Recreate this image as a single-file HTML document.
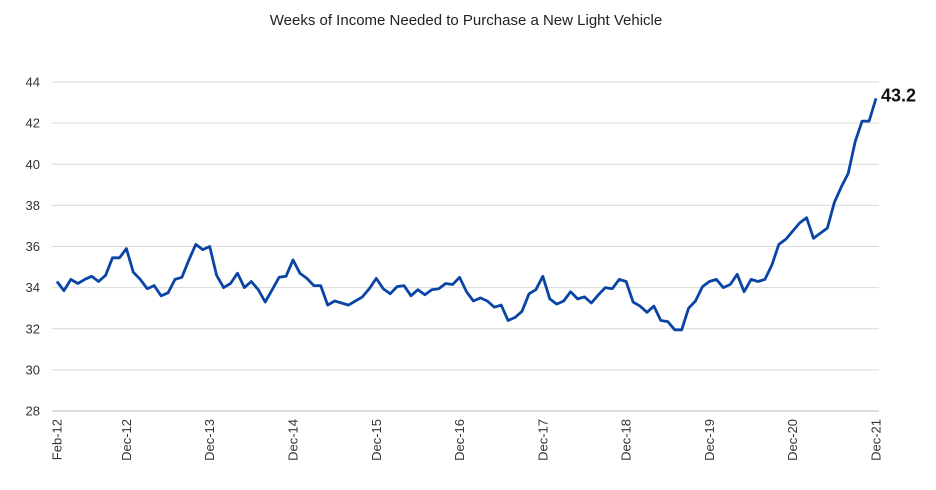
<!DOCTYPE html>
<html><head><meta charset="utf-8"><style>
html,body{margin:0;padding:0;background:#fff;}
svg{display:block;font-family:"Liberation Sans",Arial,sans-serif;}
</style></head><body>
<svg id="chart" width="936" height="490" viewBox="0 0 936 490" xmlns="http://www.w3.org/2000/svg">
<text x="466" y="25" text-anchor="middle" font-size="15" fill="#222">Weeks of Income Needed to Purchase a New Light Vehicle</text>
<g id="grid"></g><g id="yticks"></g><g id="xticks"></g><g id="series"></g>
</svg>
<script>
const values=[34.3,33.85,34.4,34.2,34.4,34.55,34.3,34.6,35.45,35.45,35.9,34.75,34.4,33.95,34.1,33.6,33.75,34.4,34.5,35.35,36.1,35.85,36.0,34.6,34.0,34.2,34.7,34.0,34.3,33.9,33.3,33.9,34.5,34.55,35.35,34.7,34.45,34.1,34.1,33.15,33.35,33.25,33.15,33.35,33.55,33.95,34.45,33.95,33.7,34.05,34.1,33.6,33.9,33.65,33.9,33.95,34.2,34.15,34.5,33.8,33.35,33.5,33.35,33.05,33.15,32.4,32.55,32.85,33.7,33.9,34.55,33.45,33.2,33.35,33.8,33.45,33.55,33.25,33.65,34.0,33.95,34.4,34.3,33.3,33.1,32.8,33.1,32.4,32.35,31.95,31.95,33.0,33.35,34.05,34.3,34.4,34.0,34.15,34.65,33.8,34.4,34.3,34.4,35.1,36.1,36.35,36.75,37.15,37.4,36.4,36.65,36.9,38.15,38.9,39.55,41.1,42.1,42.1,43.2];
const xLabels=["Feb-12","Dec-12","Dec-13","Dec-14","Dec-15","Dec-16","Dec-17","Dec-18","Dec-19","Dec-20","Dec-21"];
const xLabelIdx=[0,10,22,34,46,58,70,82,94,106,118];
const yTicks=[28,30,32,34,36,38,40,42,44];
const lastLabel="43.2";
const NS="http://www.w3.org/2000/svg";
const x=i=>57+i*(876-57)/(values.length-1);
const y=v=>411-(v-28)*(411-82)/16;
function mk(tag,attrs,parent){const e=document.createElementNS(NS,tag);for(const k in attrs)e.setAttribute(k,attrs[k]);parent.appendChild(e);return e;}
const grid=document.getElementById('grid'),yt=document.getElementById('yticks'),xt=document.getElementById('xticks'),ser=document.getElementById('series');
yTicks.forEach(t=>{
 const l=mk('line',{x1:52,x2:879,y1:y(t),y2:y(t),stroke:t===28?'#bbb':'#d9d9d9','stroke-width':1},grid);
 
 
 const tx=mk('text',{x:40,y:y(t)+4.5,'text-anchor':'end','font-size':13,fill:'#333'},yt);
 tx.textContent=t;
 
 
});
xLabels.forEach((lab,k)=>{
 const px=x(xLabelIdx[k]);
 const tx=mk('text',{x:0,y:0,transform:`translate(${px+4.5},419) rotate(-90)`,'text-anchor':'end','font-size':13,fill:'#333'},xt);
 tx.textContent=lab;
 
 
});
const p=mk('polyline',{points:values.map((v,i)=>x(i).toFixed(1)+','+y(v).toFixed(1)).join(' '),fill:'none',stroke:'#0a45a6','stroke-width':2.8,'stroke-linejoin':'round'},ser);


const lt=mk('text',{x:x(values.length-1)+5,y:y(values[values.length-1])+3,'font-size':18,'font-weight':'bold',fill:'#111'},ser);
lt.textContent=lastLabel;


</script>
</body></html>
